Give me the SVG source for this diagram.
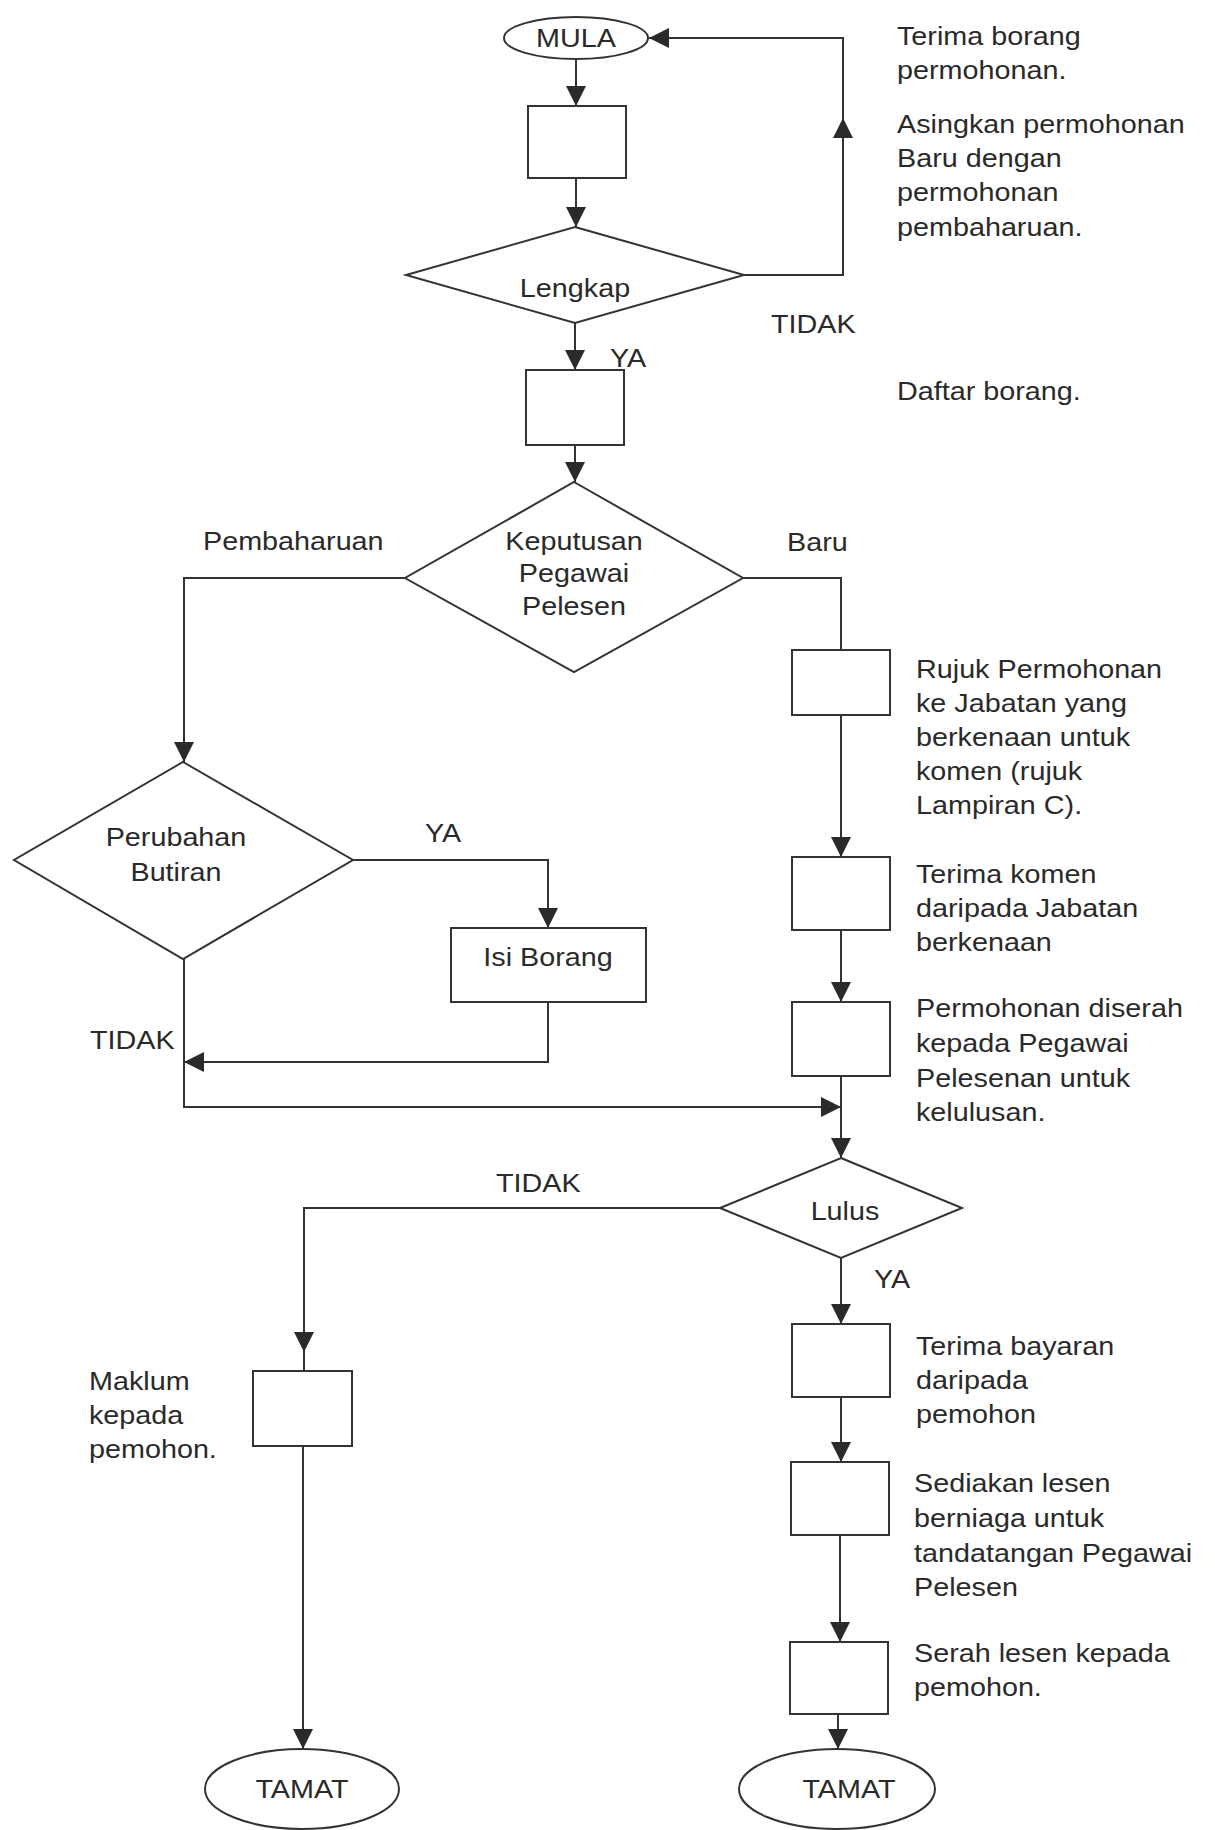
<svg xmlns="http://www.w3.org/2000/svg" width="1215" height="1830" viewBox="0 0 1215 1830">
<defs>
<style>
.shape{fill:#ffffff;stroke:#333333;stroke-width:2}
.conn{fill:none;stroke:#333333;stroke-width:2}
.t{font-family:"Liberation Sans",Arial,sans-serif;font-size:25px;fill:#2a2a2a}
.c{text-anchor:middle}
</style>
<marker id="arr" markerUnits="userSpaceOnUse" markerWidth="20" markerHeight="20" viewBox="0 0 19 19" refX="19" refY="9.5" orient="auto">
<path d="M0,0 L19,9.5 L0,19 Z" fill="#2a2a2a"/>
</marker>
</defs>
<rect x="0" y="0" width="1215" height="1830" fill="#ffffff"/>

<g id="connectors">
<path class="conn" d="M576 59 V106" marker-end="url(#arr)"/>
<path class="conn" d="M576 178 V227" marker-end="url(#arr)"/>
<path class="conn" d="M575 323 V370" marker-end="url(#arr)"/>
<path class="conn" d="M575 445 V482" marker-end="url(#arr)"/>
<path class="conn" d="M744 275 H843 V118" marker-end="url(#arr)"/>
<path class="conn" d="M843 118 V38 H649" marker-end="url(#arr)"/>
<path class="conn" d="M405 578 H184 V762" marker-end="url(#arr)"/>
<path class="conn" d="M743 578 H841 V650"/>
<path class="conn" d="M841 715 V857" marker-end="url(#arr)"/>
<path class="conn" d="M841 930 V1002" marker-end="url(#arr)"/>
<path class="conn" d="M841 1076 V1158" marker-end="url(#arr)"/>
<path class="conn" d="M353 860 H548 V928" marker-end="url(#arr)"/>
<path class="conn" d="M548 1002 V1062 H184" marker-end="url(#arr)"/>
<path class="conn" d="M184 959 V1107 H841" marker-end="url(#arr)"/>
<path class="conn" d="M720 1208 H304 V1352" marker-end="url(#arr)"/>
<path class="conn" d="M304 1352 V1371"/>
<path class="conn" d="M303 1446 V1749" marker-end="url(#arr)"/>
<path class="conn" d="M841 1258 V1324" marker-end="url(#arr)"/>
<path class="conn" d="M841 1397 V1462" marker-end="url(#arr)"/>
<path class="conn" d="M840 1535 V1642" marker-end="url(#arr)"/>
<path class="conn" d="M838 1714 V1749" marker-end="url(#arr)"/>
</g>

<g id="mula">
<ellipse class="shape" cx="576" cy="38" rx="72" ry="21"/>
<text class="t c" transform="translate(576,47) scale(1.15,1)">MULA</text>
</g>
<g id="box-terima-borang">
<rect class="shape" x="528" y="106" width="98" height="72"/>
</g>
<g id="lengkap">
<polygon class="shape" points="575,227 744,275 575,323 406,275"/>
<text class="t c" transform="translate(575,297) scale(1.15,1)">Lengkap</text>
</g>
<g id="box-daftar">
<rect class="shape" x="526" y="370" width="98" height="75"/>
</g>
<g id="keputusan">
<polygon class="shape" points="574,482 743,578 574,672 405,578"/>
<text class="t c" transform="translate(574,550) scale(1.15,1)"><tspan x="0" y="0">Keputusan</tspan><tspan x="0" y="32">Pegawai</tspan><tspan x="0" y="65">Pelesen</tspan></text>
</g>
<g id="perubahan">
<polygon class="shape" points="183,762 353,860 183,959 14,860"/>
<text class="t c" transform="translate(176,846) scale(1.15,1)"><tspan x="0" y="0">Perubahan</tspan><tspan x="0" y="35">Butiran</tspan></text>
</g>
<g id="isi-borang">
<rect class="shape" x="451" y="928" width="195" height="74"/>
<text class="t c" transform="translate(548,966) scale(1.15,1)">Isi Borang</text>
</g>
<g id="box-rujuk">
<rect class="shape" x="792" y="650" width="98" height="65"/>
</g>
<g id="box-terima-komen">
<rect class="shape" x="792" y="857" width="98" height="73"/>
</g>
<g id="box-diserah">
<rect class="shape" x="792" y="1002" width="98" height="74"/>
</g>
<g id="lulus">
<polygon class="shape" points="841,1158 962,1208 841,1258 720,1208"/>
<text class="t c" transform="translate(845,1220) scale(1.15,1)">Lulus</text>
</g>
<g id="box-bayaran">
<rect class="shape" x="792" y="1324" width="98" height="73"/>
</g>
<g id="box-sediakan">
<rect class="shape" x="791" y="1462" width="98" height="73"/>
</g>
<g id="box-serah">
<rect class="shape" x="790" y="1642" width="98" height="72"/>
</g>
<g id="box-maklum">
<rect class="shape" x="253" y="1371" width="99" height="75"/>
</g>
<g id="tamat-kiri">
<ellipse class="shape" cx="302" cy="1789" rx="97" ry="40"/>
<text class="t c" transform="translate(302,1798) scale(1.15,1)">TAMAT</text>
</g>
<g id="tamat-kanan">
<ellipse class="shape" cx="837" cy="1789" rx="98" ry="40"/>
<text class="t c" transform="translate(849,1798) scale(1.15,1)">TAMAT</text>
</g>

<g id="labels">
<text class="t" transform="translate(897,45) scale(1.15,1)"><tspan x="0" y="0">Terima borang</tspan><tspan x="0" y="34">permohonan.</tspan></text>
<text class="t" transform="translate(897,133) scale(1.15,1)"><tspan x="0" y="0">Asingkan permohonan</tspan><tspan x="0" y="34">Baru dengan</tspan><tspan x="0" y="68">permohonan</tspan><tspan x="0" y="103">pembaharuan.</tspan></text>
<text class="t" transform="translate(771,333) scale(1.15,1)">TIDAK</text>
<text class="t" transform="translate(610,367) scale(1.15,1)">YA</text>
<text class="t" transform="translate(897,400) scale(1.15,1)">Daftar borang.</text>
<text class="t" transform="translate(203,550) scale(1.15,1)">Pembaharuan</text>
<text class="t" transform="translate(787,551) scale(1.15,1)">Baru</text>
<text class="t" transform="translate(916,678) scale(1.15,1)"><tspan x="0" y="0">Rujuk Permohonan</tspan><tspan x="0" y="34">ke Jabatan yang</tspan><tspan x="0" y="68">berkenaan untuk</tspan><tspan x="0" y="102">komen (rujuk</tspan><tspan x="0" y="136">Lampiran C).</tspan></text>
<text class="t" transform="translate(425,842) scale(1.15,1)">YA</text>
<text class="t" transform="translate(916,883) scale(1.15,1)"><tspan x="0" y="0">Terima komen</tspan><tspan x="0" y="34">daripada Jabatan</tspan><tspan x="0" y="68">berkenaan</tspan></text>
<text class="t" transform="translate(916,1017) scale(1.15,1)"><tspan x="0" y="0">Permohonan diserah</tspan><tspan x="0" y="35">kepada Pegawai</tspan><tspan x="0" y="70">Pelesenan untuk</tspan><tspan x="0" y="104">kelulusan.</tspan></text>
<text class="t" transform="translate(90,1049) scale(1.15,1)">TIDAK</text>
<text class="t" transform="translate(496,1192) scale(1.15,1)">TIDAK</text>
<text class="t" transform="translate(874,1288) scale(1.15,1)">YA</text>
<text class="t" transform="translate(916,1355) scale(1.15,1)"><tspan x="0" y="0">Terima bayaran</tspan><tspan x="0" y="34">daripada</tspan><tspan x="0" y="68">pemohon</tspan></text>
<text class="t" transform="translate(89,1390) scale(1.15,1)"><tspan x="0" y="0">Maklum</tspan><tspan x="0" y="34">kepada</tspan><tspan x="0" y="68">pemohon.</tspan></text>
<text class="t" transform="translate(914,1492) scale(1.15,1)"><tspan x="0" y="0">Sediakan lesen</tspan><tspan x="0" y="35">berniaga untuk</tspan><tspan x="0" y="70">tandatangan Pegawai</tspan><tspan x="0" y="104">Pelesen</tspan></text>
<text class="t" transform="translate(914,1662) scale(1.15,1)"><tspan x="0" y="0">Serah lesen kepada</tspan><tspan x="0" y="34">pemohon.</tspan></text>
</g>
</svg>
